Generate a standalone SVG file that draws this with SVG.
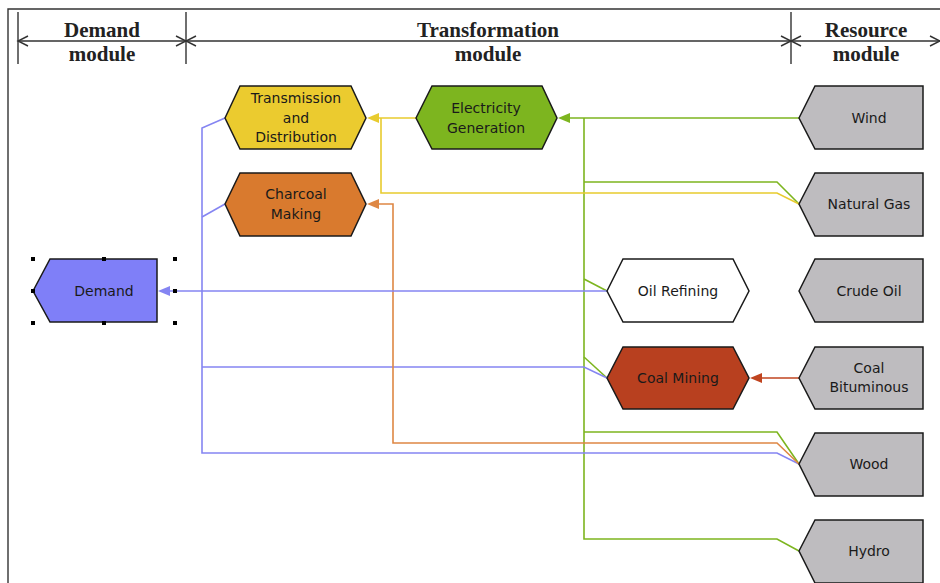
<svg xmlns="http://www.w3.org/2000/svg" width="940" height="583" viewBox="0 0 940 583">
<style>
.hdr{font-family:"Liberation Serif",serif;font-weight:bold;font-size:21px;fill:#222;text-anchor:middle}
.lbl{font-family:"DejaVu Sans",sans-serif;font-size:14px;fill:#1a1a1a;text-anchor:middle}
.node{stroke:#1a1a1a;stroke-width:1.5}
.c{fill:none;stroke-width:1.6}
.g{stroke:#7DB51F}.y{stroke:#E8CB2E}.b{stroke:#8585F2}.o{stroke:#DE8744}.r{stroke:#C0441F}
.hl{stroke:#333;stroke-width:1.4;fill:none}
.h{fill:#000}
</style>
<defs>
<marker id="ag" markerWidth="12" markerHeight="10" refX="1" refY="5" orient="auto" markerUnits="userSpaceOnUse"><path d="M12,0 L0,5 L12,10 Z" fill="#7DB51F" transform="rotate(180 6 5)"/></marker>
<marker id="ay" markerWidth="12" markerHeight="10" refX="1" refY="5" orient="auto" markerUnits="userSpaceOnUse"><path d="M12,0 L0,5 L12,10 Z" fill="#E8CB2E" transform="rotate(180 6 5)"/></marker>
<marker id="ab" markerWidth="12" markerHeight="10" refX="1" refY="5" orient="auto" markerUnits="userSpaceOnUse"><path d="M12,0 L0,5 L12,10 Z" fill="#8585F2" transform="rotate(180 6 5)"/></marker>
<marker id="ao" markerWidth="12" markerHeight="10" refX="1" refY="5" orient="auto" markerUnits="userSpaceOnUse"><path d="M12,0 L0,5 L12,10 Z" fill="#DE8744" transform="rotate(180 6 5)"/></marker>
<marker id="ar" markerWidth="12" markerHeight="10" refX="1" refY="5" orient="auto" markerUnits="userSpaceOnUse"><path d="M12,0 L0,5 L12,10 Z" fill="#C0441F" transform="rotate(180 6 5)"/></marker>
</defs>
<rect width="940" height="583" fill="#fff"/>
<g id="frame">
<path class="hl" d="M8,583 V9 H940"/>
<path class="hl" d="M18,12 V64 M186,12 V64 M791,12 V64 M18,41 H940"/>
<path class="hl" d="M28,36 L18,41 L28,46 M176,36 L186,41 L176,46 M196,36 L186,41 L196,46 M781,36 L791,41 L781,46 M801,36 L791,41 L801,46 M930,36 L940,41 L930,46"/>
<text class="hdr" x="102" y="37">Demand</text>
<text class="hdr" x="102" y="61">module</text>
<text class="hdr" x="488" y="37">Transformation</text>
<text class="hdr" x="488" y="61">module</text>
<text class="hdr" x="866" y="37">Resource</text>
<text class="hdr" x="866" y="61">module</text>
</g>
<g id="connectors">
<path class="c g" d="M584,118 V539 H777 L799,551"/>
<path class="c g" d="M584,182 H777 L799,204"/>
<path class="c g" d="M584,279 L607,291"/>
<path class="c g" d="M584,357 L607,378"/>
<path class="c g" d="M584,432 H777 L799,464"/>
<path class="c y" d="M799,204 L777,193 H381 V118"/>
<path class="c b" d="M225,118 L202,128 V453 H777 L799,464"/>
<path class="c b" d="M225,204 L202,217"/>
<path class="c b" d="M607,378 L584,367 H202"/>
<path class="c o" d="M799,464 L777,443 H393 V204 H378" marker-end="url(#ao)"/>
<path class="c g" d="M799,118 H569" marker-end="url(#ag)"/>
<path class="c y" d="M416,118 H378" marker-end="url(#ay)"/>
<path class="c b" d="M607,291 H169" marker-end="url(#ab)"/>
<path class="c r" d="M799,378 H761" marker-end="url(#ar)"/>
</g>
<g id="transmission">
<polygon class="node" fill="#EBCB2F" points="225,118 240,86 351,86 366,118 351,149 240,149"/>
<text class="lbl" x="296" y="103">Transmission</text>
<text class="lbl" x="296" y="123">and</text>
<text class="lbl" x="296" y="142">Distribution</text>
</g>
<g id="electricity">
<polygon class="node" fill="#7DB51F" points="416,118 432,86 542,86 557,118 542,149 432,149"/>
<text class="lbl" x="486" y="113">Electricity</text>
<text class="lbl" x="486" y="133">Generation</text>
</g>
<g id="charcoal">
<polygon class="node" fill="#D97A2E" points="225,204 240,173 351,173 366,204 351,236 240,236"/>
<text class="lbl" x="296" y="199">Charcoal</text>
<text class="lbl" x="296" y="219">Making</text>
</g>
<g id="demand">
<polygon class="node" fill="#7F7FF8" points="33,291 50,259 157,259 157,322 50,322"/>
<text class="lbl" x="104" y="296">Demand</text>
<g class="h">
<rect x="31" y="257" width="4" height="4"/><rect x="102" y="257" width="4" height="4"/><rect x="173" y="257" width="4" height="4"/>
<rect x="31" y="289" width="4" height="4"/><rect x="173" y="289" width="4" height="4"/>
<rect x="31" y="321" width="4" height="4"/><rect x="102" y="321" width="4" height="4"/><rect x="173" y="321" width="4" height="4"/>
</g>
</g>
<g id="oil-refining">
<polygon class="node" fill="#fff" points="607,291 623,259 733,259 749,291 733,322 623,322"/>
<text class="lbl" x="678" y="296">Oil Refining</text>
</g>
<g id="coal-mining">
<polygon class="node" fill="#B8401F" points="607,378 623,347 733,347 749,378 733,409 623,409"/>
<text class="lbl" x="678" y="383">Coal Mining</text>
</g>
<g id="wind">
<polygon class="node" fill="#BEBCBF" points="799,118 815,86 923,86 923,149 815,149"/>
<text class="lbl" x="869" y="123">Wind</text>
</g>
<g id="natural-gas">
<polygon class="node" fill="#BEBCBF" points="799,204 815,173 923,173 923,236 815,236"/>
<text class="lbl" x="869" y="209">Natural Gas</text>
</g>
<g id="crude-oil">
<polygon class="node" fill="#BEBCBF" points="799,291 815,259 923,259 923,322 815,322"/>
<text class="lbl" x="869" y="296">Crude Oil</text>
</g>
<g id="coal-bituminous">
<polygon class="node" fill="#BEBCBF" points="799,378 815,347 923,347 923,409 815,409"/>
<text class="lbl" x="869" y="373">Coal</text>
<text class="lbl" x="869" y="392">Bituminous</text>
</g>
<g id="wood">
<polygon class="node" fill="#BEBCBF" points="799,464 815,433 923,433 923,496 815,496"/>
<text class="lbl" x="869" y="469">Wood</text>
</g>
<g id="hydro">
<polygon class="node" fill="#BEBCBF" points="799,551 815,520 923,520 923,583 815,583"/>
<text class="lbl" x="869" y="556">Hydro</text>
</g>
</svg>
